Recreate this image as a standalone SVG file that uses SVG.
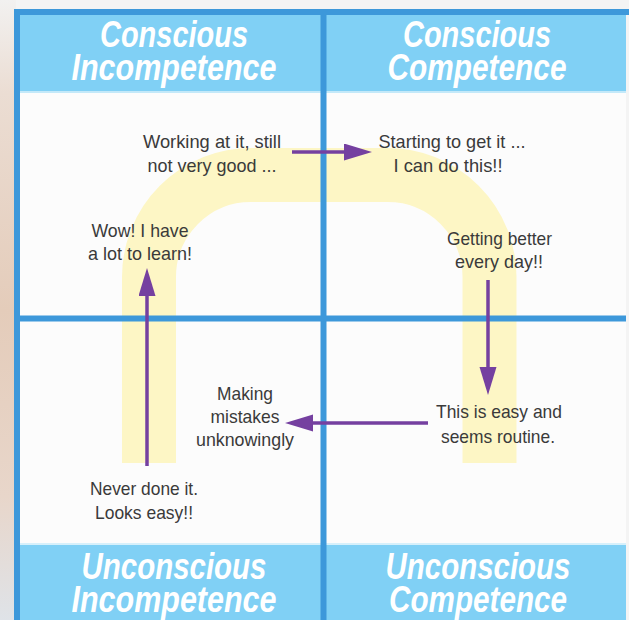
<svg xmlns="http://www.w3.org/2000/svg" width="629" height="620" viewBox="0 0 629 620">
  <defs>
    <linearGradient id="side" x1="0" y1="0" x2="0" y2="1">
      <stop offset="0" stop-color="#f2f1f0"/>
      <stop offset="0.15" stop-color="#ebddd3"/>
      <stop offset="0.5" stop-color="#e4ccba"/>
      <stop offset="0.8" stop-color="#e8d6ca"/>
      <stop offset="1" stop-color="#dfe3e8"/>
    </linearGradient>
    <marker id="ah" markerUnits="userSpaceOnUse" markerWidth="29" markerHeight="18" refX="0" refY="8.5" orient="auto">
      <path d="M0,0 L28,8.5 L0,17 z" fill="#7540a0"/>
    </marker>
    <style>
      .hdr { fill: #80d0f5; }
      .grid { stroke: #3d98da; stroke-width: 6; fill: none; }
      .title { font-family: "Liberation Sans", Arial, sans-serif; font-weight: bold; font-style: italic; font-size: 37px; fill: #ffffff; text-anchor: middle; }
      .lbl { font-family: "Liberation Sans", Arial, sans-serif; font-size: 19px; fill: #3a3a3a; text-anchor: middle; }
      .arr { stroke: #7540a0; stroke-width: 3.5; fill: none; marker-end: url(#ah); }
    </style>
  </defs>

  <!-- backdrop -->
  <rect x="0" y="0" width="629" height="620" fill="#f4f4f4"/>
  <rect x="0" y="0" width="16" height="620" fill="url(#side)"/>

  <!-- cells -->
  <rect x="20" y="91" width="606" height="454" fill="#fcfcfc"/>

  <!-- header bands -->
  <rect class="hdr" x="20" y="15" width="606" height="76"/>
  <rect x="20" y="91" width="606" height="2" fill="#c4e9f9"/>
  <rect class="hdr" x="20" y="545" width="606" height="75"/>
  <rect x="20" y="543" width="606" height="2" fill="#d6f0fb"/>

  <!-- yellow learning path -->
  <path d="M149,463 V277 A102,102 0 0 1 251,175 H387.5 A102,102 0 0 1 489.5,277 V463" fill="none" stroke="#fdf6c5" stroke-width="54"/>

  <!-- grid -->
  <g id="grid">
    <rect class="grid" x="17" y="12" width="615" height="620"/>
    <line class="grid" x1="323.5" y1="15" x2="323.5" y2="620"/>
    <line class="grid" x1="20" y1="318.5" x2="626" y2="318.5"/>
  </g>

  <!-- quadrant titles -->
  <g id="conscious-incompetence">
    <text class="title" x="174" y="47" textLength="148" lengthAdjust="spacingAndGlyphs">Conscious</text>
    <text class="title" x="174" y="80" textLength="205" lengthAdjust="spacingAndGlyphs">Incompetence</text>
  </g>
  <g id="conscious-competence">
    <text class="title" x="477" y="47" textLength="148" lengthAdjust="spacingAndGlyphs">Conscious</text>
    <text class="title" x="477" y="80" textLength="179" lengthAdjust="spacingAndGlyphs">Competence</text>
  </g>
  <g id="unconscious-incompetence">
    <text class="title" x="174" y="579" textLength="185" lengthAdjust="spacingAndGlyphs">Unconscious</text>
    <text class="title" x="174" y="612" textLength="205" lengthAdjust="spacingAndGlyphs">Incompetence</text>
  </g>
  <g id="unconscious-competence">
    <text class="title" x="478" y="579" textLength="185" lengthAdjust="spacingAndGlyphs">Unconscious</text>
    <text class="title" x="478" y="612" textLength="178" lengthAdjust="spacingAndGlyphs">Competence</text>
  </g>

  <!-- stage labels -->
  <g id="never-done">
    <text class="lbl" x="144" y="495" textLength="108" lengthAdjust="spacingAndGlyphs">Never done it.</text>
    <text class="lbl" x="144" y="519" textLength="98" lengthAdjust="spacingAndGlyphs">Looks easy!!</text>
  </g>
  <g id="wow">
    <text class="lbl" x="140" y="237" textLength="97" lengthAdjust="spacingAndGlyphs">Wow! I have</text>
    <text class="lbl" x="140" y="260" textLength="104" lengthAdjust="spacingAndGlyphs">a lot to learn!</text>
  </g>
  <g id="working">
    <text class="lbl" x="212" y="148" textLength="138" lengthAdjust="spacingAndGlyphs">Working at it, still</text>
    <text class="lbl" x="212" y="172" textLength="129" lengthAdjust="spacingAndGlyphs">not very good ...</text>
  </g>
  <g id="starting">
    <text class="lbl" x="452" y="148" textLength="147" lengthAdjust="spacingAndGlyphs">Starting to get it ...</text>
    <text class="lbl" x="448" y="172" textLength="109" lengthAdjust="spacingAndGlyphs">I can do this!!</text>
  </g>
  <g id="getting-better">
    <text class="lbl" x="499.5" y="245" textLength="105" lengthAdjust="spacingAndGlyphs">Getting better</text>
    <text class="lbl" x="499" y="268" textLength="88" lengthAdjust="spacingAndGlyphs">every day!!</text>
  </g>
  <g id="easy-routine">
    <text class="lbl" x="499" y="418" textLength="126" lengthAdjust="spacingAndGlyphs">This is easy and</text>
    <text class="lbl" x="498" y="443" textLength="114" lengthAdjust="spacingAndGlyphs">seems routine.</text>
  </g>
  <g id="making-mistakes">
    <text class="lbl" x="245" y="400" textLength="56" lengthAdjust="spacingAndGlyphs">Making</text>
    <text class="lbl" x="245" y="423" textLength="69" lengthAdjust="spacingAndGlyphs">mistakes</text>
    <text class="lbl" x="245" y="446" textLength="98" lengthAdjust="spacingAndGlyphs">unknowingly</text>
  </g>

  <!-- connectors -->
  <g id="connectors">
    <line class="arr" x1="147" y1="466" x2="147" y2="296"/>
    <line class="arr" x1="292" y1="152" x2="344" y2="152"/>
    <line class="arr" x1="488" y1="280" x2="488" y2="367"/>
    <line class="arr" x1="428" y1="423" x2="313" y2="423"/>
  </g>
</svg>
